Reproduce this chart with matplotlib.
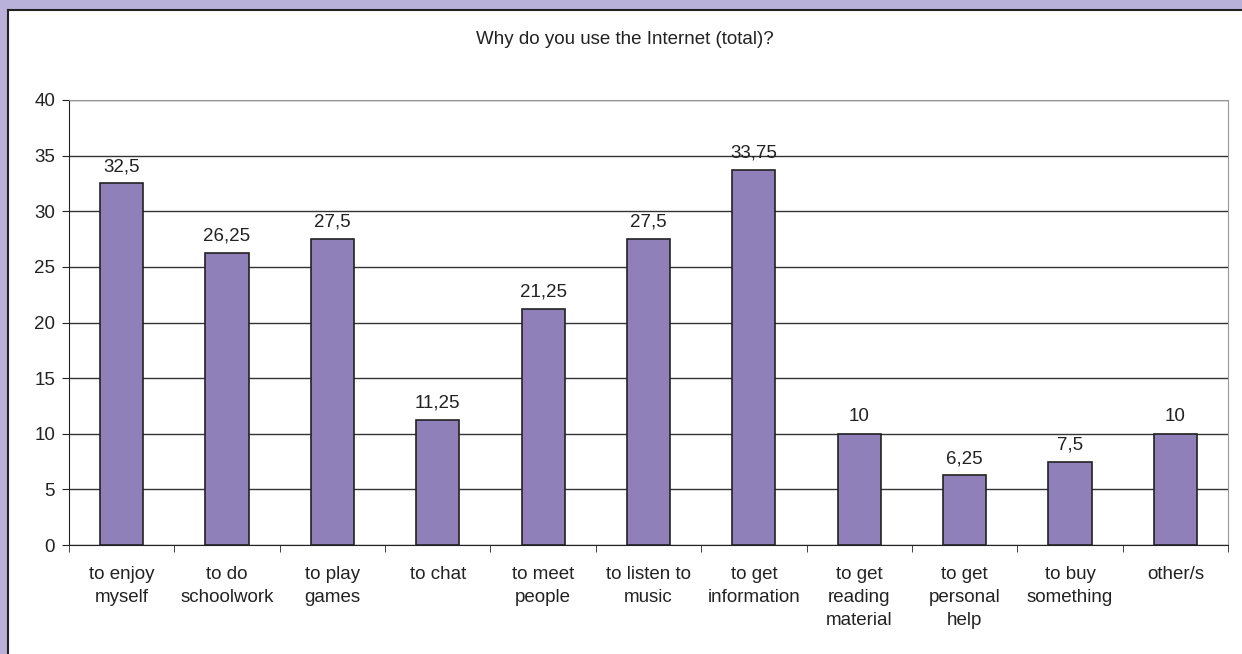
import matplotlib.pyplot as plt
from matplotlib.patches import Rectangle

# survey answers and percentage of respondents
categories = ['to enjoy\nmyself', 'to do\nschoolwork', 'to play\ngames', 'to chat',
              'to meet\npeople', 'to listen to\nmusic', 'to get\ninformation',
              'to get\nreading\nmaterial', 'to get\npersonal\nhelp', 'to buy\nsomething',
              'other/s']
values = [32.5, 26.25, 27.5, 11.25, 21.25, 27.5, 33.75, 10, 6.25, 7.5, 10]
y_ticks = [0, 5, 10, 15, 20, 25, 30, 35, 40]

plt.rcParams['font.family'] = ['Liberation Sans', 'DejaVu Sans']
FS = 13.5
TXT = '#222222'

W, H = 1242, 654
fig = plt.figure(figsize=(W / 100, H / 100), dpi=100)
fig.patch.set_facecolor('#b9b1d9')

# white chart panel with dark edge on the left and top
fig.patches.append(Rectangle((8 / W, 0), 1.0, 1 - 10 / H, transform=fig.transFigure,
                             facecolor='white', edgecolor='none', zorder=-2))
fig.lines.append(plt.Line2D([8 / W, 8 / W], [0, 1 - 10 / H], transform=fig.transFigure,
                            color='#222222', lw=1.5, zorder=-1))
fig.lines.append(plt.Line2D([8 / W, 1], [1 - 10 / H, 1 - 10 / H], transform=fig.transFigure,
                            color='#222222', lw=1.5, zorder=-1))

left, right, top, bottom = 69, 1228, 100, 545
ax = fig.add_axes([left / W, 1 - bottom / H, (right - left) / W, (bottom - top) / H])
ax.set_zorder(2)
ax.set_facecolor('white')

x = list(range(len(categories)))
ax.bar(x, values, width=0.41, color='#9080b9', edgecolor='#222222', linewidth=1.2, zorder=3)

for xi, v in zip(x, values):
    label = f'{v:g}'.replace('.', ',')
    ax.text(xi, v + 0.75, label, ha='center', va='bottom', fontsize=FS, color=TXT)

ax.set_xlim(-0.5, len(categories) - 0.5)
ax.set_ylim(0, 40)
ax.set_yticks(y_ticks)
ax.set_yticklabels([str(t) for t in y_ticks], fontsize=FS, color=TXT)
ax.yaxis.grid(True, color='#333333', lw=1, zorder=0)
ax.set_axisbelow(True)

ax.set_xticks(x)
ax.set_xticklabels(categories, fontsize=FS, linespacing=1.45, va='top', color=TXT)
ax.tick_params(axis='x', length=0, pad=15)
ax.set_xticks([i - 0.5 for i in range(len(categories) + 1)], minor=True)
ax.tick_params(axis='x', which='minor', length=5, color='#222222', direction='out')
ax.tick_params(axis='y', length=5, color='#222222', direction='out', pad=5)

ax.spines['left'].set_color('#222222')
ax.spines['bottom'].set_color('#222222')
ax.spines['top'].set_color('#999999')
ax.spines['right'].set_color('#999999')

fig.text((8 + W) / 2 / W, 1 - 40 / H, 'Why do you use the Internet (total)?',
         ha='center', va='center', fontsize=FS, color=TXT)

fig.savefig('out.png', dpi=100, facecolor=fig.get_facecolor())
